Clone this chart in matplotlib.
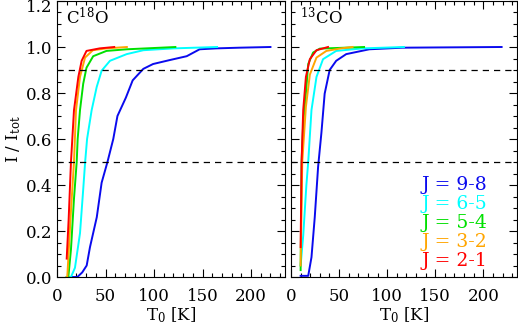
import numpy as np
import matplotlib
matplotlib.use("Agg")
import matplotlib.pyplot as plt
import matplotlib.transforms as mtransforms
from matplotlib.ticker import MultipleLocator

plt.rcParams["font.family"] = "DejaVu Serif"
plt.rcParams["mathtext.fontset"] = "dejavuserif"

# transition labels and colours (drawn back to front)
transitions = ["9-8", "6-5", "5-4", "3-2", "2-1"]
colors = ["#0a0aee", "#00ffff", "#00e000", "#ffa500", "#ff0000"]

# C18O cumulative fraction curves: T0 [K], I/Itot
c18o_t = {
    "9-8": [11, 21, 26, 30.6, 34, 41, 46, 52, 58, 62.3, 71, 78, 89, 99, 116, 133.7, 147, 164, 188, 220],
    "6-5": [10, 14.4, 18.5, 23.7, 27, 29, 31, 35.7, 40.9, 46, 54.6, 71.8, 89, 120, 165],
    "5-4": [10, 11.7, 14.4, 17.5, 20.3, 21.3, 23.7, 27, 30.4, 37.3, 51, 71.8, 122],
    "3-2": [10, 10.6, 14, 17.5, 19.6, 23.7, 28.9, 37, 51, 72],
    "2-1": [10, 12, 14.4, 17.5, 22, 25.4, 30.4, 44, 59],
}
c18o_f = {
    "9-8": [0.0, 0.0, 0.02, 0.05, 0.13, 0.26, 0.41, 0.50, 0.60, 0.70, 0.78, 0.855, 0.905, 0.926, 0.943, 0.96, 0.99, 0.994, 0.997, 1.0],
    "6-5": [0.0, 0.0, 0.04, 0.19, 0.38, 0.50, 0.60, 0.725, 0.826, 0.897, 0.94, 0.969, 0.986, 0.994, 1.0],
    "5-4": [0.0, 0.0, 0.12, 0.34, 0.50, 0.60, 0.725, 0.84, 0.91, 0.96, 0.983, 0.99, 1.0],
    "3-2": [0.0, 0.0, 0.26, 0.50, 0.725, 0.87, 0.954, 0.986, 0.994, 1.0],
    "2-1": [0.08, 0.25, 0.50, 0.725, 0.87, 0.94, 0.983, 0.994, 1.0],
}

# 13CO cumulative fraction curves
co13_t = {
    "9-8": [10, 17.9, 21.3, 24.7, 28.2, 31.6, 35, 40.2, 47, 57.4, 81.4, 115.7, 219],
    "6-5": [10, 12.7, 16, 17.9, 21.3, 26.5, 33.3, 47, 74.6, 117.5],
    "5-4": [10, 11, 12.7, 15.5, 17.9, 23, 30, 76],
    "3-2": [10, 11.7, 15.5, 19.6, 26.5, 36.8, 52, 64],
    "2-1": [10, 11, 12.7, 15.5, 19.6, 26.5, 38.5],
}
co13_f = {
    "9-8": [0.005, 0.005, 0.086, 0.26, 0.48, 0.626, 0.797, 0.90, 0.94, 0.969, 0.99, 0.997, 1.0],
    "6-5": [0.05, 0.18, 0.40, 0.50, 0.726, 0.87, 0.947, 0.983, 0.994, 1.0],
    "5-4": [0.03, 0.50, 0.67, 0.80, 0.926, 0.976, 0.993, 1.0],
    "3-2": [0.05, 0.50, 0.74, 0.88, 0.954, 0.983, 0.994, 1.0],
    "2-1": [0.13, 0.50, 0.726, 0.87, 0.947, 0.986, 1.0],
}

fig = plt.figure(figsize=(5.18, 3.29), dpi=100)
ax1 = fig.add_axes([57 / 518, 1 - 277 / 329, 228 / 518, 276 / 329])
ax2 = fig.add_axes([291 / 518, 1 - 277 / 329, 226 / 518, 276 / 329])

panels = [(ax1, c18o_t, c18o_f, r"C$^{18}$O"), (ax2, co13_t, co13_f, r"$^{13}$CO")]
for ax, tdat, fdat, name in panels:
    for tr, col in zip(transitions, colors):
        ax.plot(tdat[tr], fdat[tr], color=col, lw=1.4)
    ax.axhline(0.9, color="black", ls=(0, (5, 4)), lw=0.9)
    ax.axhline(0.5, color="black", ls=(0, (5, 4)), lw=0.9)
    ax.set_xlim(0, 235)
    ax.set_ylim(0, 1.2)
    ax.xaxis.set_major_locator(MultipleLocator(50))
    ax.xaxis.set_minor_locator(MultipleLocator(10))
    ax.yaxis.set_major_locator(MultipleLocator(0.2))
    ax.yaxis.set_minor_locator(MultipleLocator(0.05))
    ax.tick_params(which="both", direction="in", top=True, right=True, labelsize=12)
    ax.tick_params(axis="x", which="both", pad=8)
    ax.tick_params(which="major", length=6, width=0.8)
    ax.tick_params(which="minor", length=3, width=0.8)
    ax.set_xlabel(r"T$_0$ [K]", fontsize=12, labelpad=0)
    ax.text(0.04, 0.94, name, transform=ax.transAxes, fontsize=12, va="center", ha="left")

ax1.set_yticks([0, 0.2, 0.4, 0.6, 0.8, 1.0, 1.2])
ax1.set_yticklabels(["0.0", "0.2", "0.4", "0.6", "0.8", "1.0", "1.2"])
ax1.set_ylim(0, 1.2)
ax1.set_ylabel(r"I / I$_{\rm tot}$", fontsize=12, labelpad=2)
# nudge the top label down a little so it stays mostly inside the figure
top_lab = ax1.get_yticklabels()[-1]
top_lab.set_transform(top_lab.get_transform() +
                      mtransforms.ScaledTranslation(0, -4 / 100, fig.dpi_scale_trans))
ax2.set_yticks([0, 0.2, 0.4, 0.6, 0.8, 1.0, 1.2])
ax2.set_ylim(0, 1.2)
ax2.set_yticklabels([])

for i, (tr, col) in enumerate(zip(transitions, colors)):
    ax2.text(0.87, 0.334 - i * 0.069, f"J = {tr}", color=col, fontsize=13.5,
             ha="right", va="center", transform=ax2.transAxes)

fig.savefig("out.png", dpi=100)
